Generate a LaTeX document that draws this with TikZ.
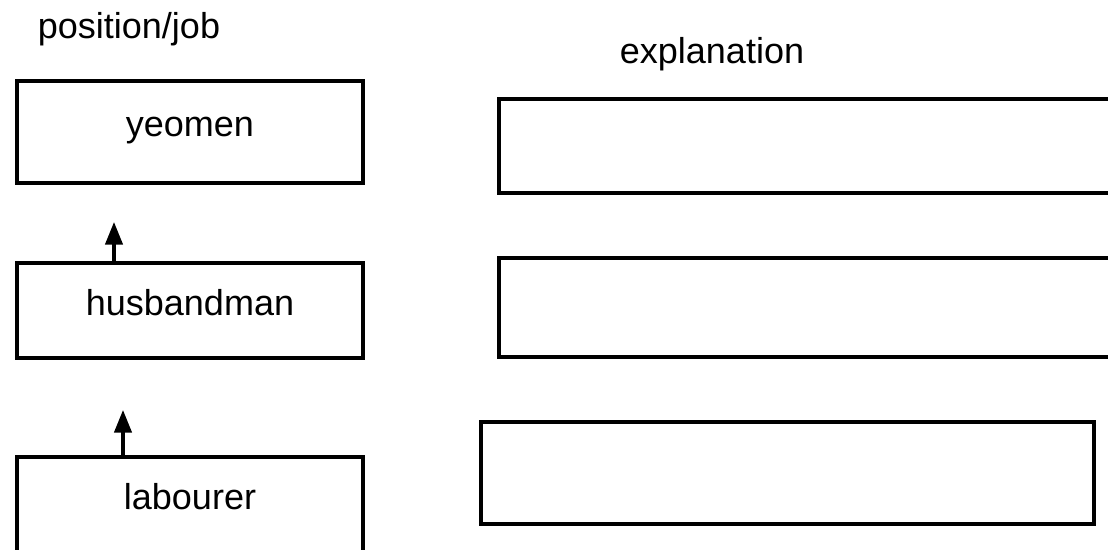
\documentclass[tikz,border=0pt]{standalone}
\usepackage{fontspec}
\setmainfont{Liberation Sans}
\usetikzlibrary{arrows.meta}
\tikzstyle{jobbox} = [rectangle, draw, line width=2.3pt, minimum width=346pt*0.75, text centered, text height=0.72em, text depth=0.02em]
\tikzstyle{explbox} = [rectangle, draw, line width=2.3pt]
\tikzstyle{heading} = [anchor=base]
\tikzstyle{arrow} = [line width=2.5pt, -{Triangle[length=17pt, width=13pt]}]

\begin{document}
\begin{tikzpicture}[x=0.75pt, y=-0.75pt, font=\fontsize{27}{32}\selectfont]
                \useasboundingbox (0,0) rectangle (1108,550);
                \node [heading] at (129,38) (posjob) {position/job};
                \node [heading] at (712,63) (expl) {explanation};

                \node [jobbox, minimum height=102pt*0.75] at (190,132) (yeomen) {yeomen};
                \node [jobbox, minimum height=95pt*0.75] at (190,310.5) (husband) {husbandman};
                \node [jobbox, minimum height=96pt*0.75] at (190,505) (labourer) {labourer};

                \node [explbox, minimum width=616pt*0.75, minimum height=94pt*0.75] at (807,146) (expl1) {};
                \node [explbox, minimum width=616pt*0.75, minimum height=99pt*0.75] at (807,307.5) (expl2) {};
                \node [explbox, minimum width=613pt*0.75, minimum height=102pt*0.75] at (787.5,473) (expl3) {};

                \coordinate (up1) at (114,222);
                \coordinate (up2) at (123,410);
                \draw [arrow] (husband.north -| up1) -- (up1);
                \draw [arrow] (labourer.north -| up2) -- (up2);
\end{tikzpicture}
\end{document}
